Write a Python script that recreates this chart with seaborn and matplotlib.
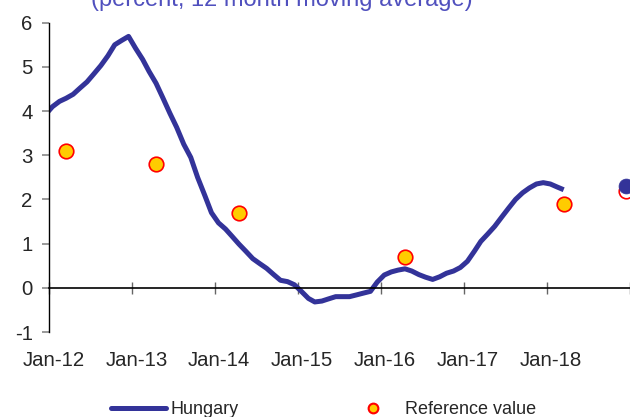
import matplotlib
matplotlib.use("Agg")
import matplotlib.pyplot as plt
import matplotlib.transforms as mtransforms
from matplotlib.lines import Line2D
import seaborn as sns
import pandas as pd
import numpy as np

# ---------------- data ----------------
hungary_start = "2011-12-01"
hungary_values = [
    3.92,
    4.10, 4.22, 4.29, 4.38, 4.52, 4.66, 4.84, 5.03, 5.25, 5.50, 5.60, 5.69,
    5.42, 5.17, 4.90, 4.63, 4.30, 3.95, 3.63, 3.25, 2.95, 2.50, 2.10, 1.70,
    1.47, 1.33, 1.17, 0.99, 0.83, 0.66, 0.55, 0.44, 0.30, 0.17, 0.14, 0.07,
    -0.08, -0.24, -0.32, -0.30, -0.25, -0.20, -0.20, -0.20, -0.16, -0.12, -0.08, 0.13,
    0.29, 0.36, 0.40, 0.43, 0.38, 0.30, 0.24, 0.19, 0.25, 0.33, 0.38, 0.46,
    0.60, 0.83, 1.05, 1.22, 1.39, 1.60, 1.80, 2.00, 2.15, 2.26, 2.35, 2.38,
    2.35, 2.28, 2.22,
]
ref_dates = ["2012-03-15", "2013-04-15", "2014-04-15", "2016-04-15", "2018-03-15"]
ref_values = [3.1, 2.8, 1.7, 0.7, 1.9]
ref_last_date = ["2018-12-15"]
ref_last_value = [2.2]
hungary_proj_date = ["2018-12-15"]
hungary_proj_value = [2.3]
tick_years = ["2012", "2013", "2014", "2015", "2016", "2017", "2018"]
tick_labels = ["Jan-12", "Jan-13", "Jan-14", "Jan-15", "Jan-16", "Jan-17", "Jan-18"]
y_ticks = [-1, 0, 1, 2, 3, 4, 5, 6]
title = "(percent, 12 month moving average)"

# ---------------- frames ----------------
hun = pd.DataFrame({
    "date": pd.date_range(hungary_start, periods=len(hungary_values), freq="MS") + pd.Timedelta(days=14),
    "value": hungary_values,
})
ref = pd.DataFrame({"date": pd.to_datetime(ref_dates), "value": ref_values})
ref_last = pd.DataFrame({"date": pd.to_datetime(ref_last_date), "value": ref_last_value})
proj = pd.DataFrame({"date": pd.to_datetime(hungary_proj_date), "value": hungary_proj_value})

sns.set_style("white")
plt.rcParams["font.family"] = ["Liberation Sans", "DejaVu Sans"]
plt.rcParams["axes.unicode_minus"] = False

LINE = "#333399"
fig = plt.figure(figsize=(6.3, 4.17), dpi=100)
ax = fig.add_axes([49.3 / 630, 1 - 332 / 417, 1 - 49.3 / 630, (332 - 22.7) / 417])

sns.lineplot(data=hun, x="date", y="value", color=LINE, linewidth=3.6, ax=ax,
             solid_joinstyle="round", solid_capstyle="butt")
sns.scatterplot(data=ref, x="date", y="value", s=110, color="#FFCC00",
                edgecolor="#FF0000", linewidth=1.2, ax=ax, zorder=4, clip_on=False)
sns.scatterplot(data=ref_last, x="date", y="value", s=110, color="white",
                edgecolor="#FF0000", linewidth=1.2, ax=ax, zorder=4, clip_on=False)
sns.scatterplot(data=proj, x="date", y="value", s=115, color=LINE,
                edgecolor=LINE, linewidth=0.5, ax=ax, zorder=5, clip_on=False)

ax.set_xlim(pd.Timestamp("2012-01-01"), pd.Timestamp("2019-01-01"))
ax.set_ylim(-1, 6)
ax.set_xlabel("")
ax.set_ylabel("")

ax.set_xticks(pd.to_datetime([y + "-01-01" for y in tick_years] + ["2019-01-01"]))
ax.set_xticklabels(tick_labels + [""])
ax.set_yticks(y_ticks)
ax.set_yticklabels([str(v) for v in y_ticks])

for s in ["top", "right"]:
    ax.spines[s].set_visible(False)
ax.spines["bottom"].set_position(("data", 0))
ax.spines["bottom"].set_color("black")
ax.spines["bottom"].set_linewidth(1.2)
ax.spines["left"].set_color("black")
ax.spines["left"].set_linewidth(1.0)

ax.tick_params(axis="x", direction="inout", length=8.6, width=1.0, color="#666666",
               labelsize=14.7, pad=41, bottom=True)
ax.tick_params(axis="y", direction="out", length=5, width=1.2, color="#888888",
               labelsize=14.7, pad=7, left=True)

offset = mtransforms.ScaledTranslation(4 / 100, 0, fig.dpi_scale_trans)
for lbl in ax.get_xticklabels():
    lbl.set_transform(lbl.get_transform() + offset)

fig.text(282 / 630, 1 - 6 / 417, title, ha="center", va="baseline",
         color="#5050BE", fontsize=17)

handles = [
    Line2D([], [], color=LINE, linewidth=3.6),
    Line2D([], [], marker="o", linestyle="none", markersize=7, markerfacecolor="#FFCC00",
           markeredgecolor="#FF0000", markeredgewidth=1.5),
]
fig.legend(handles, ["Hungary", "Reference value"], loc="center",
           bbox_to_anchor=(323.7 / 630, 1 - 410 / 417), ncol=2, frameon=False,
           fontsize=13, handlelength=3.05, handletextpad=0.25, columnspacing=5.9)

fig.savefig("out.png", dpi=100)
